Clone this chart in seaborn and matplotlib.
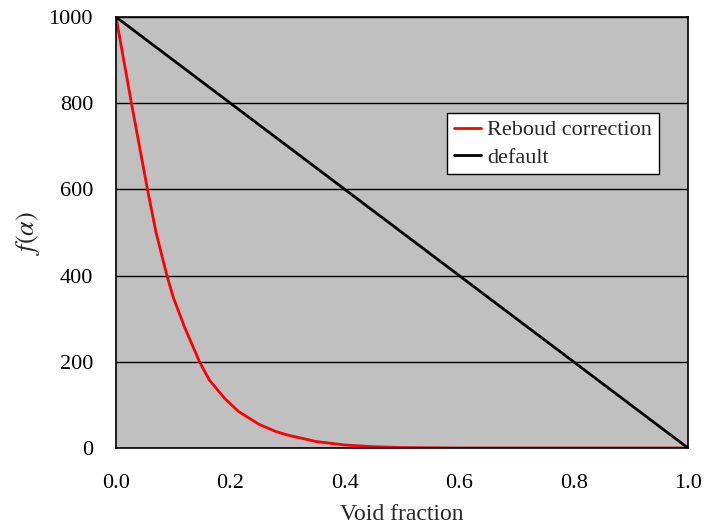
import matplotlib
matplotlib.use("Agg")
import matplotlib.pyplot as plt
import seaborn as sns
import pandas as pd

alpha_reboud = [0.0, 0.027, 0.055, 0.07, 0.089, 0.10, 0.12, 0.146, 0.163, 0.19, 0.214,
                0.25, 0.28, 0.30, 0.35, 0.40, 0.45, 0.50, 0.60, 0.70, 0.80, 0.90, 1.0]
f_reboud = [1000, 800, 600, 500, 400, 350, 280, 200, 158, 115, 85,
            55, 38, 30, 15, 7, 3, 1, 0, 0, 0, 0, 0]
alpha_default = [0.0, 1.0]
f_default = [1000, 0]

df = pd.concat([
    pd.DataFrame({"alpha": alpha_reboud, "f": f_reboud, "series": "Reboud correction"}),
    pd.DataFrame({"alpha": alpha_default, "f": f_default, "series": "default"}),
])

sns.set_theme(style="white")
plt.rcParams["font.family"] = ["Liberation Serif", "DejaVu Serif"]
plt.rcParams["mathtext.fontset"] = "stix"

fig = plt.figure(figsize=(7.09, 5.29), dpi=100)
ax = fig.add_axes([116/709, 1-448/529, (688-116)/709, (448-17)/529])
ax.set_facecolor("#C0C0C0")

sns.lineplot(data=df, x="alpha", y="f", hue="series",
             palette={"Reboud correction": "#FF0000", "default": "#000000"},
             linewidth=2, ax=ax, sort=False)

ax.set_xlim(0, 1)
ax.set_ylim(0, 1000)
ax.set_xticks([0, 0.2, 0.4, 0.6, 0.8, 1.0])
ax.set_xticklabels(["0.0", "0.2", "0.4", "0.6", "0.8", "1.0"])
ax.set_yticks([0, 200, 400, 600, 800, 1000])
ax.yaxis.grid(True, color="black", linewidth=1)
ax.xaxis.grid(False)
ax.set_axisbelow(True)
for s in ax.spines.values():
    s.set_color("black")
    s.set_linewidth(1.2)
ax.tick_params(axis="both", direction="in", length=5, width=1, colors="black",
               labelsize=16, labelcolor="black")
ax.tick_params(axis="x", pad=19)
ax.tick_params(axis="y", pad=16.5)
ax.set_xlabel("Void fraction", fontsize=17, labelpad=8)
ax.set_ylabel(r"$f(\alpha)$", fontsize=19, labelpad=5)

leg = ax.legend(loc="upper right", bbox_to_anchor=(0.949, 0.777), fontsize=16,
                frameon=True, fancybox=False, framealpha=1, edgecolor="black",
                handlelength=1.2, handletextpad=0.3, borderpad=0.3, labelspacing=0.3,
                borderaxespad=0)
leg.get_frame().set_linewidth(1)

fig.savefig("out.png", dpi=100)
